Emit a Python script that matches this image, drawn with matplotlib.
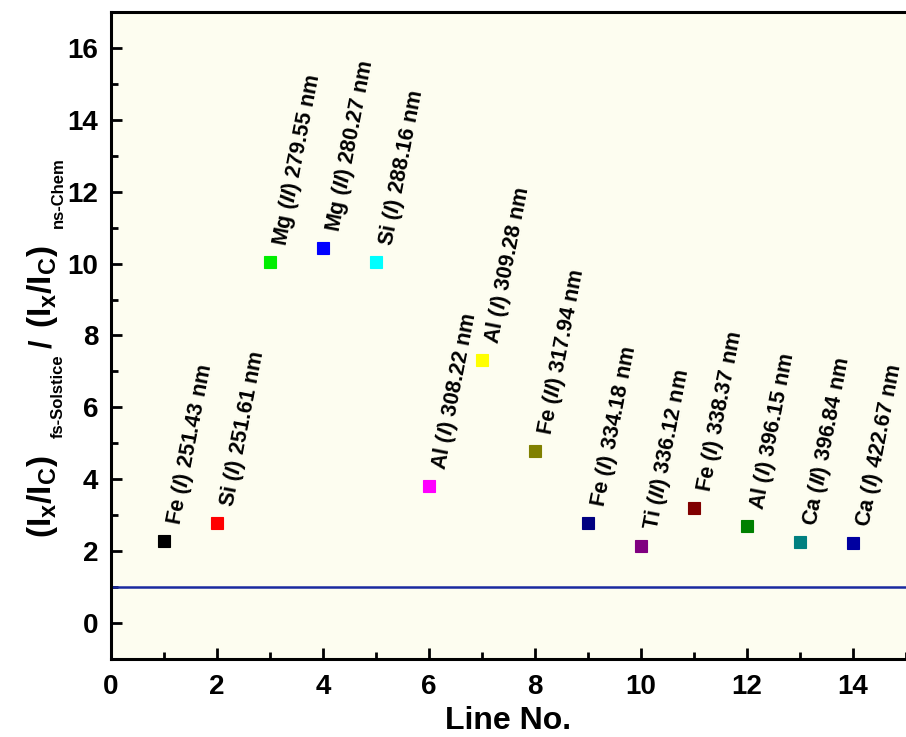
import matplotlib
matplotlib.use("Agg")
import matplotlib.pyplot as plt
from matplotlib.ticker import MultipleLocator

plt.rcParams['font.family'] = ['Liberation Sans', 'DejaVu Sans']
plt.rcParams['font.weight'] = 'bold'
plt.rcParams['mathtext.fontset'] = 'custom'
plt.rcParams['mathtext.rm'] = 'Liberation Sans:bold'
plt.rcParams['mathtext.it'] = 'Liberation Sans:italic:bold'
plt.rcParams['mathtext.bf'] = 'Liberation Sans:bold'

line_no = [1, 2, 3, 4, 5, 6, 7, 8, 9, 10, 11, 12, 13, 14]
ratios = [2.28, 2.78, 10.05, 10.43, 10.05, 3.81, 7.32, 4.79, 2.78, 2.14, 3.2, 2.7, 2.25, 2.23]
elements = ['Fe', 'Si', 'Mg', 'Mg', 'Si', 'Al', 'Al', 'Fe', 'Fe', 'Ti', 'Fe', 'Al', 'Ca', 'Ca']
ions = ['I', 'I', 'II', 'II', 'I', 'I', 'I', 'II', 'I', 'II', 'I', 'I', 'II', 'I']
wavelengths = ['251.43', '251.61', '279.55', '280.27', '288.16', '308.22', '309.28',
               '317.94', '334.18', '336.12', '338.37', '396.15', '396.84', '422.67']
colors = ['#000000', '#ff0000', '#00ee00', '#0000ff', '#00ffff', '#ff00ff', '#ffff00',
          '#808000', '#000080', '#800080', '#800000', '#008000', '#008080', '#0000a0']
reference_level = 1.0

W, H = 906, 737
fig = plt.figure(figsize=(W / 100, H / 100), dpi=100)
ax = fig.add_axes([0.1225, 0.1058, 0.8775, 0.878])
ax.set_facecolor('#fdfdf0')

for x, y, c in zip(line_no, ratios, colors):
    ax.plot(x, y, 's', color=c, markersize=9, markeredgecolor=c, markeredgewidth=0.8, zorder=3)

for x, y, el, ion, wl in zip(line_no, ratios, elements, ions, wavelengths):
    label = (r'$\mathrm{' + el + r'\ (}\mathit{' + ion + r'}\mathrm{)\ '
             + wl + r'\ nm}$')
    ax.annotate(label, xy=(x, y), xytext=(8, 12), textcoords='offset points',
                rotation=79, rotation_mode='anchor', ha='left', va='center',
                fontsize=15.5, fontweight='bold')

ax.axhline(reference_level, color='#1a2aa0', linewidth=1.8, zorder=2)

ax.set_xlim(0, 15)
ax.set_ylim(-1, 17)
ax.xaxis.set_major_locator(MultipleLocator(2))
ax.xaxis.set_minor_locator(MultipleLocator(1))
ax.yaxis.set_major_locator(MultipleLocator(2))
ax.yaxis.set_minor_locator(MultipleLocator(1))
ax.tick_params(which='both', direction='in', width=2, labelsize=20)
ax.tick_params(which='major', length=8)
ax.tick_params(which='minor', length=5)
ax.tick_params(axis='x', pad=11)
ax.tick_params(axis='y', pad=9)
for lab in ax.get_xticklabels() + ax.get_yticklabels():
    lab.set_fontweight('bold')

for s in ['left', 'bottom', 'top']:
    ax.spines[s].set_linewidth(2.2)
ax.spines['right'].set_visible(False)

ax.set_xlabel('Line No.', fontsize=23, fontweight='bold', labelpad=4)

# y-axis label built from pieces (large groups, small lowered subscripts)
ratio_group = r'$(\mathregular{I_x/I_C})$'
ylabel_pieces = [
    # text, fontsize, baseline x (px), start y (px from top)
    (ratio_group, 24, 51, 538),
    ('fs-Solstice', 12, 63, 438),
    ('/', 22, 51, 348),
    (ratio_group, 24, 51, 328),
    ('ns-Chem', 12, 63, 228),
]
for txt, fs, bx, by in ylabel_pieces:
    fig.text(bx / W, 1 - by / H, txt, fontsize=fs, fontweight='bold',
             rotation=90, rotation_mode='anchor', ha='left', va='baseline')

fig.savefig('out.png', dpi=100)
